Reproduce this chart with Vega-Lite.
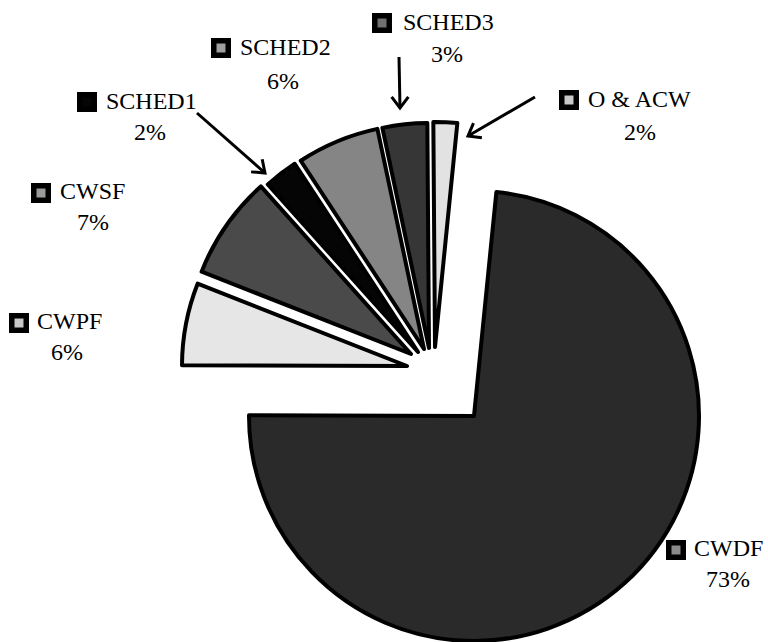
{
  "$schema": "https://vega.github.io/schema/vega-lite/v6.json",
  "width": 768,
  "height": 642,
  "autosize": {"type": "none"},
  "padding": 0,
  "background": "white",
  "config": {"view": {"stroke": null}},
  "datasets": {
    "slices": [
      {"name": "CWDF", "value": 73.4, "ord": 1},
      {"name": "CWPF", "value": 5.9, "ord": 2},
      {"name": "CWSF", "value": 7.4, "ord": 3},
      {"name": "SCHED1", "value": 2.4, "ord": 4},
      {"name": "SCHED2", "value": 5.9, "ord": 5},
      {"name": "SCHED3", "value": 3.2, "ord": 6},
      {"name": "O & ACW", "value": 1.7, "ord": 7}
    ],
    "labels": [
      {"name": "CWDF", "pct": "73%", "mx": 676, "my": 550, "nx": 694, "ny": 549, "px": 728, "py": 580},
      {"name": "CWPF", "pct": "6%", "mx": 19, "my": 323, "nx": 37, "ny": 322, "px": 67, "py": 353},
      {"name": "CWSF", "pct": "7%", "mx": 41, "my": 193, "nx": 60, "ny": 192, "px": 93, "py": 223},
      {"name": "SCHED1", "pct": "2%", "mx": 87, "my": 102, "nx": 106, "ny": 102, "px": 150, "py": 133},
      {"name": "SCHED2", "pct": "6%", "mx": 221, "my": 48, "nx": 240, "ny": 48, "px": 283, "py": 82},
      {"name": "SCHED3", "pct": "3%", "mx": 382, "my": 23, "nx": 403, "ny": 23, "px": 447, "py": 55},
      {"name": "O & ACW", "pct": "2%", "mx": 569, "my": 100, "nx": 588, "ny": 100, "px": 640, "py": 133}
    ],
    "arrows": [
      {"target": "SCHED1", "x": 197, "y": 113, "x2": 265, "y2": 173, "angle": 131.5},
      {"target": "SCHED3", "x": 399, "y": 57, "x2": 400, "y2": 108, "angle": 180},
      {"target": "O & ACW", "x": 535, "y": 97, "x2": 468, "y2": 136, "angle": 240}
    ]
  },
  "layer": [
    {
      "data": {"name": "slices"},
      "transform": [
        {"stack": "value", "groupby": [], "sort": [{"field": "ord", "order": "ascending"}], "as": ["t0", "t1"]},
        {"filter": "datum.name === 'CWDF'"}
      ],
      "mark": {"type": "arc", "radius": 225, "stroke": "black", "strokeWidth": 4, "strokeJoin": "round", "xOffset": 90, "yOffset": 95},
      "encoding": {
        "theta": {"field": "t0", "type": "quantitative", "stack": null, "scale": {"domain": [0, 99.9], "range": [0.0995, 6.3827]}},
        "theta2": {"field": "t1"},
        "color": {"field": "name", "type": "nominal", "legend": null,
          "scale": {"domain": ["CWDF", "CWPF", "CWSF", "SCHED1", "SCHED2", "SCHED3", "O & ACW"],
                    "range": ["#2a2a2a", "#e6e6e6", "#4a4a4a", "#050505", "#858585", "#363636", "#e2e2e2"]}}
      }
    },
    {
      "data": {"name": "slices"},
      "transform": [
        {"stack": "value", "groupby": [], "sort": [{"field": "ord", "order": "ascending"}], "as": ["t0", "t1"]},
        {"filter": "datum.name === 'CWPF'"}
      ],
      "mark": {"type": "arc", "radius": 225, "stroke": "black", "strokeWidth": 4, "strokeJoin": "round", "xOffset": 23, "yOffset": 45},
      "encoding": {
        "theta": {"field": "t0", "type": "quantitative", "stack": null},
        "theta2": {"field": "t1"},
        "color": {"field": "name", "type": "nominal", "legend": null}
      }
    },
    {
      "data": {"name": "slices"},
      "transform": [
        {"stack": "value", "groupby": [], "sort": [{"field": "ord", "order": "ascending"}], "as": ["t0", "t1"]},
        {"filter": "datum.name === 'CWSF'"}
      ],
      "mark": {"type": "arc", "radius": 225, "stroke": "black", "strokeWidth": 4, "strokeJoin": "round", "xOffset": 27, "yOffset": 33},
      "encoding": {
        "theta": {"field": "t0", "type": "quantitative", "stack": null},
        "theta2": {"field": "t1"},
        "color": {"field": "name", "type": "nominal", "legend": null}
      }
    },
    {
      "data": {"name": "slices"},
      "transform": [
        {"stack": "value", "groupby": [], "sort": [{"field": "ord", "order": "ascending"}], "as": ["t0", "t1"]},
        {"filter": "datum.name === 'SCHED1'"}
      ],
      "mark": {"type": "arc", "radius": 225, "stroke": "black", "strokeWidth": 4, "strokeJoin": "round", "xOffset": 34, "yOffset": 31},
      "encoding": {
        "theta": {"field": "t0", "type": "quantitative", "stack": null},
        "theta2": {"field": "t1"},
        "color": {"field": "name", "type": "nominal", "legend": null}
      }
    },
    {
      "data": {"name": "slices"},
      "transform": [
        {"stack": "value", "groupby": [], "sort": [{"field": "ord", "order": "ascending"}], "as": ["t0", "t1"]},
        {"filter": "datum.name === 'SCHED2'"}
      ],
      "mark": {"type": "arc", "radius": 225, "stroke": "black", "strokeWidth": 4, "strokeJoin": "round", "xOffset": 40, "yOffset": 28},
      "encoding": {
        "theta": {"field": "t0", "type": "quantitative", "stack": null},
        "theta2": {"field": "t1"},
        "color": {"field": "name", "type": "nominal", "legend": null}
      }
    },
    {
      "data": {"name": "slices"},
      "transform": [
        {"stack": "value", "groupby": [], "sort": [{"field": "ord", "order": "ascending"}], "as": ["t0", "t1"]},
        {"filter": "datum.name === 'SCHED3'"}
      ],
      "mark": {"type": "arc", "radius": 225, "stroke": "black", "strokeWidth": 4, "strokeJoin": "round", "xOffset": 45, "yOffset": 27},
      "encoding": {
        "theta": {"field": "t0", "type": "quantitative", "stack": null},
        "theta2": {"field": "t1"},
        "color": {"field": "name", "type": "nominal", "legend": null}
      }
    },
    {
      "data": {"name": "slices"},
      "transform": [
        {"stack": "value", "groupby": [], "sort": [{"field": "ord", "order": "ascending"}], "as": ["t0", "t1"]},
        {"filter": "datum.name === 'O & ACW'"}
      ],
      "mark": {"type": "arc", "radius": 225, "stroke": "black", "strokeWidth": 4, "strokeJoin": "round", "xOffset": 51, "yOffset": 26},
      "encoding": {
        "theta": {"field": "t0", "type": "quantitative", "stack": null},
        "theta2": {"field": "t1"},
        "color": {"field": "name", "type": "nominal", "legend": null}
      }
    },
    {
      "data": {"name": "labels"},
      "mark": {"type": "point", "shape": "square", "filled": true, "size": 210, "stroke": "black", "strokeWidth": 5.5, "opacity": 1},
      "encoding": {
        "x": {"field": "mx", "type": "quantitative", "scale": {"domain": [0, 768], "nice": false, "zero": false}, "axis": null},
        "y": {"field": "my", "type": "quantitative", "scale": {"domain": [642, 0], "nice": false, "zero": false}, "axis": null},
        "fill": {"field": "name", "type": "nominal", "legend": null,
          "scale": {"domain": ["CWDF", "CWPF", "CWSF", "SCHED1", "SCHED2", "SCHED3", "O & ACW"],
                    "range": ["#8a8a8a", "#c8c8c8", "#9a9a9a", "#050505", "#a0a0a0", "#707070", "#c8c8c8"]}}
      }
    },
    {
      "data": {"name": "labels"},
      "mark": {"type": "text", "align": "left", "baseline": "middle", "font": "Liberation Serif", "fontSize": 24, "color": "black"},
      "encoding": {
        "x": {"field": "nx", "type": "quantitative"},
        "y": {"field": "ny", "type": "quantitative"},
        "text": {"field": "name"}
      }
    },
    {
      "data": {"name": "labels"},
      "mark": {"type": "text", "align": "center", "baseline": "middle", "font": "Liberation Serif", "fontSize": 24, "color": "black"},
      "encoding": {
        "x": {"field": "px", "type": "quantitative"},
        "y": {"field": "py", "type": "quantitative"},
        "text": {"field": "pct"}
      }
    },
    {
      "data": {"name": "arrows"},
      "mark": {"type": "rule", "color": "black", "strokeWidth": 3},
      "encoding": {
        "x": {"field": "x", "type": "quantitative"},
        "y": {"field": "y", "type": "quantitative"},
        "x2": {"field": "x2"},
        "y2": {"field": "y2"}
      }
    },
    {
      "data": {"name": "arrows"},
      "mark": {"type": "point", "shape": "M -0.75 1 L 0 0 L 0.75 1", "filled": false, "size": 500, "stroke": "black", "strokeWidth": 3, "opacity": 1, "strokeJoin": "miter"},
      "encoding": {
        "x": {"field": "x2", "type": "quantitative"},
        "y": {"field": "y2", "type": "quantitative"},
        "angle": {"field": "angle", "type": "quantitative", "scale": null}
      }
    }
  ]
}
